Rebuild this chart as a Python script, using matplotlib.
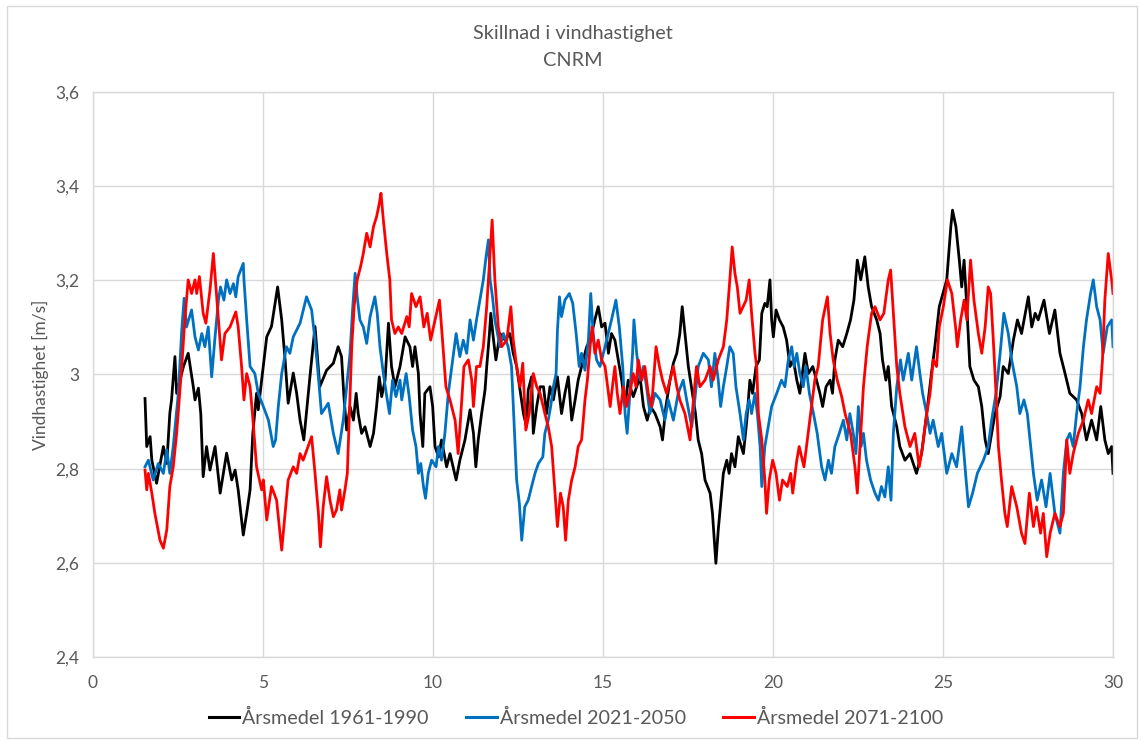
import matplotlib
matplotlib.use("Agg")
import matplotlib.pyplot as plt
from matplotlib.patches import Rectangle
from matplotlib.ticker import FuncFormatter

# ---- data ----
black_x = [1.53, 1.58, 1.68, 1.73, 1.87, 2.07, 2.17, 2.26, 2.31, 2.41, 2.46, 2.66, 2.80, 2.95, 3.00, 3.10, 3.17, 3.24, 3.34, 3.44,
           3.59, 3.74, 3.93, 4.08, 4.18, 4.27, 4.42, 4.52, 4.62, 4.70, 4.81, 4.86, 4.96, 5.11, 5.25, 5.43, 5.55, 5.65, 5.74, 5.89,
           5.99, 6.09, 6.20, 6.38, 6.53, 6.67, 6.87, 7.07, 7.21,
           7.31, 7.38, 7.46, 7.56, 7.66, 7.74, 7.80, 7.90, 8.00, 8.15, 8.25, 8.34, 8.42, 8.49, 8.59, 8.69, 8.78, 8.88, 9.03, 9.18,
           9.32, 9.40, 9.47, 9.57, 9.62, 9.70, 9.76, 9.91, 9.99, 10.06, 10.16, 10.25, 10.40, 10.50, 10.68, 10.79, 10.94, 11.09, 11.19, 11.26,
           11.33, 11.43, 11.53, 11.58, 11.66, 11.70, 11.77, 11.85, 11.97, 12.12, 12.26, 12.36, 12.46, 12.56, 12.66, 12.75, 12.80, 12.90, 12.95, 13.05,
           13.15, 13.25, 13.34, 13.44, 13.54, 13.66, 13.78, 13.88, 13.98, 14.08, 14.18, 14.27, 14.37, 14.52, 14.62, 14.76, 14.86, 14.96, 15.06, 15.16,
           15.25, 15.35, 15.45, 15.55, 15.65, 15.74, 15.89, 15.99, 16.09, 16.19, 16.30, 16.40, 16.53, 16.68, 16.75, 16.85, 16.97, 17.07, 17.17, 17.26,
           17.33, 17.41, 17.51, 17.63, 17.72, 17.80, 17.90, 18.00, 18.15, 18.22, 18.32, 18.39, 18.47, 18.54, 18.64, 18.71, 18.78, 18.88, 18.98,
           19.13, 19.23, 19.32, 19.40, 19.50, 19.60, 19.67, 19.76, 19.83, 19.91, 19.96, 20.01, 20.09, 20.19, 20.30, 20.40, 20.50, 20.60, 20.70, 20.79,
           20.94, 21.04, 21.17, 21.28, 21.38, 21.46, 21.56, 21.68, 21.75, 21.82, 21.92, 22.05, 22.17, 22.28, 22.38, 22.48, 22.58, 22.70, 22.80, 22.90,
           23.05, 23.15, 23.22, 23.32, 23.39, 23.49, 23.64, 23.73, 23.88, 24.03, 24.22, 24.37, 24.52, 24.66, 24.76, 24.89,
           25.11, 25.23, 25.28, 25.38, 25.48, 25.55, 25.62, 25.70, 25.79, 25.91, 26.04, 26.14, 26.24, 26.33, 26.43, 26.53, 26.68, 26.77, 26.92, 27.07,
           27.19, 27.31, 27.51, 27.61, 27.71, 27.80, 27.97, 28.13, 28.29, 28.44, 28.59, 28.73, 28.93, 29.08, 29.22, 29.37, 29.52, 29.64, 29.76, 29.86,
           29.96, 30.00]
black_y = [2.949, 2.847, 2.868, 2.818, 2.769, 2.847, 2.811, 2.918, 2.946, 3.038, 2.960, 3.017, 3.045, 2.974, 2.946, 2.971, 2.917, 2.783, 2.847, 2.797,
           2.847, 2.748, 2.833, 2.776, 2.797, 2.755, 2.659, 2.705, 2.755, 2.875, 2.960, 2.925, 2.988, 3.080, 3.102, 3.186, 3.116, 3.031, 2.939, 3.003,
           2.960, 2.903, 2.861, 2.995, 3.102, 2.974, 3.009, 3.024, 3.059,
           3.038, 2.953, 2.882, 2.932, 2.903, 2.960, 2.917, 2.875, 2.889, 2.847, 2.875, 2.932, 2.995, 2.953, 2.988, 3.109, 3.017, 2.974, 3.017, 3.080,
           3.059, 3.017, 3.059, 3.002, 2.917, 2.847, 2.960, 2.974, 2.932, 2.847, 2.825, 2.861, 2.804, 2.832, 2.776, 2.818, 2.861, 2.925, 2.875, 2.804,
           2.861, 2.917, 2.967, 3.017, 3.087, 3.130, 3.080, 3.031, 3.087, 3.073, 3.087, 3.045, 3.017, 2.967, 2.917, 2.889, 2.967, 2.995, 2.875, 2.932,
           2.974, 2.974, 2.917, 2.974, 2.946, 2.995, 2.917, 2.960, 2.995, 2.903, 2.946, 2.988, 3.017, 3.059, 3.073, 3.116, 3.144, 3.101, 3.109, 3.045,
           3.087, 3.073, 3.031, 2.988, 2.932, 2.988, 2.953, 2.974, 2.995, 2.932, 2.903, 2.932, 2.917, 2.889, 2.861, 2.932, 2.988, 3.024, 3.045, 3.087,
           3.144, 3.087, 3.017, 2.960, 2.917, 2.861, 2.832, 2.776, 2.748, 2.705, 2.599, 2.670, 2.733, 2.790, 2.818, 2.790, 2.832, 2.804, 2.868,
           2.832, 2.903, 2.988, 2.960, 3.017, 3.031, 3.130, 3.151, 3.144, 3.201, 3.116, 3.080, 3.137, 3.116, 3.101, 3.073, 3.017, 3.031, 2.988, 2.960,
           3.045, 3.002, 3.017, 2.988, 2.960, 2.932, 2.974, 2.988, 2.960, 3.031, 3.073, 3.059, 3.087, 3.116, 3.158, 3.243, 3.201, 3.250, 3.186, 3.144,
           3.116, 3.087, 3.031, 2.988, 3.017, 2.932, 2.889, 2.847, 2.818, 2.832, 2.790, 2.832, 2.917, 3.002, 3.059, 3.144,
           3.201, 3.314, 3.349, 3.314, 3.243, 3.186, 3.243, 3.144, 3.017, 2.988, 2.974, 2.932, 2.861, 2.832, 2.875, 2.917, 2.953, 3.017, 3.002, 3.073,
           3.116, 3.087, 3.165, 3.101, 3.130, 3.116, 3.158, 3.087, 3.137, 3.045, 3.002, 2.960, 2.946, 2.917, 2.861, 2.903, 2.861, 2.932, 2.861, 2.832,
           2.847, 2.790]

blue_x = [1.53, 1.63, 1.77, 1.92, 2.07, 2.17, 2.26, 2.36, 2.51, 2.61, 2.68, 2.75, 2.90, 3.00, 3.10, 3.20, 3.29, 3.39, 3.49, 3.59,
          3.69, 3.75, 3.85, 3.93, 4.03, 4.13, 4.20, 4.27, 4.42, 4.44, 4.52, 4.62, 4.76, 4.86, 5.01, 5.16, 5.30, 5.37, 5.45, 5.55,
          5.69, 5.79, 5.89, 6.09, 6.28, 6.43, 6.53, 6.63, 6.72, 6.92, 7.07, 7.21,
          7.36, 7.46, 7.56, 7.64, 7.71, 7.77, 7.85, 7.95, 8.05, 8.15, 8.29, 8.36, 8.44, 8.54, 8.64, 8.72, 8.81, 8.91, 9.03, 9.08,
          9.21, 9.30, 9.40, 9.50, 9.57, 9.64, 9.72, 9.78, 9.86, 9.96, 10.09, 10.16, 10.25, 10.35, 10.45, 10.58, 10.68, 10.79, 10.89, 10.99,
          11.09, 11.19, 11.28, 11.38, 11.48, 11.56, 11.63, 11.68, 11.75, 11.82, 11.97, 12.07, 12.21, 12.31, 12.38, 12.46, 12.54, 12.61, 12.70, 12.80,
          12.90, 13.00, 13.10,
          13.23, 13.29, 13.39, 13.46, 13.54, 13.62, 13.66, 13.72, 13.78, 13.88, 14.01, 14.11, 14.21, 14.30, 14.37, 14.47, 14.57, 14.64, 14.71, 14.81,
          14.91, 15.06, 15.25, 15.38, 15.48, 15.58, 15.65, 15.71, 15.79, 15.87, 15.91, 15.99, 16.09, 16.19, 16.28, 16.38, 16.53, 16.68, 16.82, 16.92,
          17.07, 17.21, 17.36, 17.46, 17.61, 17.70, 17.80, 17.95, 18.10, 18.19, 18.29, 18.39, 18.46, 18.54, 18.64, 18.73, 18.83, 18.91, 19.03,
          19.13, 19.21, 19.30, 19.37, 19.47, 19.54, 19.62, 19.67, 19.76, 19.86, 19.96, 20.11, 20.25, 20.35, 20.45, 20.55, 20.62, 20.70, 20.79, 20.89,
          20.97, 21.07, 21.19, 21.30, 21.43, 21.53, 21.63, 21.72, 21.82, 21.95, 22.07, 22.17, 22.26, 22.36, 22.44, 22.51, 22.59, 22.66, 22.75, 22.87,
          23.00, 23.10, 23.19, 23.29, 23.39, 23.47, 23.54, 23.64, 23.75, 23.83, 23.98, 24.08, 24.22, 24.32, 24.40, 24.52, 24.62, 24.71, 24.86,
          24.96, 25.11, 25.26, 25.40, 25.55, 25.68, 25.75, 25.87, 26.01, 26.19, 26.33, 26.43, 26.56, 26.68, 26.79, 26.92, 27.02, 27.17, 27.26, 27.38,
          27.48, 27.56, 27.66, 27.77, 27.90, 28.03, 28.15, 28.29, 28.44, 28.54, 28.64, 28.73, 28.83, 28.93, 29.03, 29.13, 29.22, 29.34, 29.42, 29.52,
          29.62, 29.71, 29.83, 29.96, 30.00]
blue_y = [2.804, 2.818, 2.776, 2.811, 2.790, 2.840, 2.790, 2.847, 2.960, 3.094, 3.162, 3.101, 3.137, 3.080, 3.052, 3.087, 3.059, 3.101, 2.995, 3.080,
          3.158, 3.186, 3.158, 3.201, 3.172, 3.193, 3.165, 3.208, 3.236, 3.201, 3.116, 3.017, 3.002, 2.960, 2.932, 2.903, 2.847, 2.861, 2.932, 3.002,
          3.059, 3.045, 3.080, 3.109, 3.165, 3.137, 3.073, 2.995, 2.917, 2.939, 2.875, 2.832,
          2.903, 2.974, 3.045, 3.144, 3.215, 3.165, 3.116, 3.101, 3.066, 3.123, 3.165, 3.130, 3.059, 3.002, 2.953, 2.917, 2.988, 2.953, 2.988, 2.946,
          3.002, 2.953, 2.882, 2.847, 2.790, 2.811, 2.762, 2.737, 2.790, 2.818, 2.804, 2.847, 2.818, 2.875, 2.960, 3.031, 3.087, 3.038, 3.073, 3.045,
          3.116, 3.073, 3.116, 3.158, 3.201, 3.250, 3.286, 3.201, 3.165, 3.116, 3.059, 3.087, 3.059, 3.017, 2.903, 2.776, 2.726, 2.648, 2.719, 2.733,
          2.762, 2.790, 2.811,
          2.825, 2.875, 2.903, 2.932, 2.974, 3.002, 3.094, 3.165, 3.123, 3.158, 3.172, 3.151, 3.087, 3.017, 3.045, 3.009, 3.073, 3.172, 3.087, 3.031,
          3.017, 3.059, 3.116, 3.158, 3.101, 3.017, 2.917, 2.875, 2.960, 3.045, 3.116, 3.045, 2.988, 3.017, 2.974, 2.917, 2.960, 2.946, 2.903, 2.946,
          2.903, 2.960, 2.988, 2.946, 2.889, 2.946, 3.017, 3.045, 3.031, 2.974, 3.045, 2.988, 2.932, 2.974, 3.017, 3.059, 3.045, 2.974, 2.917,
          2.861, 2.917, 2.946, 2.917, 2.960, 2.917, 2.847, 2.762, 2.847, 2.889, 2.932, 2.960, 2.988, 2.974, 3.031, 3.059, 3.017, 3.045, 3.002, 2.974,
          3.017, 2.960, 2.917, 2.875, 2.804, 2.776, 2.818, 2.790, 2.847, 2.875, 2.903, 2.861, 2.917, 2.875, 2.832, 2.932, 2.847, 2.875, 2.818, 2.776,
          2.748, 2.733, 2.762, 2.740, 2.804, 2.733, 2.875, 2.974, 3.031, 2.988, 3.045, 2.988, 3.059, 3.002, 2.960, 2.917, 2.875, 2.903, 2.847,
          2.875, 2.790, 2.832, 2.804, 2.889, 2.776, 2.719, 2.748, 2.790, 2.818, 2.847, 2.903, 2.960, 3.045, 3.130, 3.087, 3.031, 2.974, 2.917, 2.946,
          2.917, 2.861, 2.790, 2.733, 2.776, 2.719, 2.790, 2.705, 2.663, 2.790, 2.861, 2.875, 2.847, 2.917, 2.974, 3.059, 3.116, 3.172, 3.201, 3.144,
          3.116, 3.045, 3.101, 3.116, 3.059]

red_x = [1.53, 1.58, 1.63, 1.73, 1.82, 1.97, 2.07, 2.17, 2.26, 2.36, 2.46, 2.61, 2.70, 2.80, 2.90, 3.00, 3.05, 3.13, 3.24, 3.32,
         3.44, 3.54, 3.66, 3.78, 3.88, 4.03, 4.11, 4.20, 4.27, 4.37, 4.44, 4.52, 4.62, 4.69, 4.81, 4.96, 5.01, 5.11, 5.25, 5.40,
         5.55, 5.65, 5.74, 5.89, 5.99, 6.09, 6.18, 6.43, 6.53, 6.63, 6.69, 6.77, 6.87, 6.97, 7.07, 7.16, 7.26,
         7.31, 7.41, 7.48, 7.54, 7.61, 7.68, 7.77, 7.87, 7.95, 8.05, 8.15, 8.25, 8.34, 8.42, 8.47, 8.54, 8.64, 8.73, 8.78, 8.88,
         8.98, 9.08, 9.23, 9.30, 9.37, 9.50, 9.62, 9.73, 9.83, 9.93, 10.06, 10.19, 10.28, 10.38, 10.50, 10.65, 10.74, 10.82, 10.91, 11.04,
         11.14, 11.19, 11.28, 11.38, 11.48, 11.58, 11.68, 11.74, 11.82, 11.92, 12.02, 12.17, 12.29, 12.36, 12.46, 12.56, 12.64, 12.73, 12.83, 12.95,
         13.05, 13.15,
         13.29, 13.39, 13.49, 13.56, 13.66, 13.75, 13.83, 13.90, 13.98, 14.08, 14.18, 14.27, 14.37, 14.47, 14.54, 14.62, 14.68, 14.76, 14.86, 14.96,
         15.06, 15.16, 15.21, 15.30, 15.35, 15.42, 15.50, 15.60, 15.69, 15.79, 15.89, 15.97, 16.04, 16.14, 16.23, 16.33, 16.43, 16.56, 16.66, 16.75,
         16.87, 16.97, 17.07, 17.17, 17.26, 17.41, 17.56, 17.66, 17.75, 17.85, 18.00, 18.15, 18.24, 18.39, 18.54, 18.64, 18.73, 18.80, 18.88, 18.95,
         19.03,
         19.21, 19.30, 19.37, 19.47, 19.52, 19.57, 19.67, 19.76, 19.81, 19.89, 19.99, 20.09, 20.19, 20.28, 20.42, 20.52, 20.58, 20.70, 20.77, 20.91,
         21.01, 21.11, 21.23, 21.33, 21.46, 21.60, 21.68, 21.77, 21.89, 22.02, 22.12, 22.28, 22.41, 22.48, 22.58, 22.66, 22.77, 22.90, 23.00, 23.15,
         23.26, 23.39, 23.46, 23.54, 23.64, 23.73, 23.88, 24.03, 24.17, 24.30, 24.40, 24.52, 24.62, 24.71, 24.81,
         24.89, 25.01, 25.13, 25.26, 25.38, 25.42, 25.52, 25.62, 25.70, 25.81, 25.91, 26.04, 26.14, 26.24, 26.33, 26.40, 26.48, 26.56, 26.63, 26.72,
         26.82, 26.89, 27.02, 27.17, 27.31, 27.41, 27.54, 27.66, 27.75, 27.87, 27.95, 28.05, 28.15, 28.29, 28.44, 28.54, 28.64, 28.73, 28.83, 28.98,
         29.13, 29.27, 29.37, 29.52, 29.62, 29.69, 29.76, 29.86, 29.96, 30.00]
red_y = [2.797, 2.755, 2.790, 2.748, 2.705, 2.648, 2.631, 2.670, 2.762, 2.804, 2.875, 3.017, 3.116, 3.201, 3.172, 3.201, 3.172, 3.208, 3.130, 3.109,
         3.179, 3.257, 3.144, 3.031, 3.087, 3.101, 3.116, 3.133, 3.101, 3.017, 2.946, 3.002, 2.974, 2.917, 2.804, 2.755, 2.776, 2.691, 2.762, 2.733,
         2.627, 2.705, 2.776, 2.804, 2.790, 2.832, 2.818, 2.868, 2.790, 2.705, 2.634, 2.719, 2.783, 2.733, 2.698, 2.712, 2.755,
         2.712, 2.755, 2.790, 2.917, 3.059, 3.144, 3.201, 3.229, 3.257, 3.300, 3.271, 3.314, 3.335, 3.363, 3.385, 3.328, 3.257, 3.201, 3.116, 3.087,
         3.101, 3.087, 3.123, 3.101, 3.172, 3.144, 3.165, 3.101, 3.130, 3.073, 3.116, 3.158, 3.073, 2.974, 2.946, 2.903, 2.832, 2.917, 3.017, 3.031,
         2.988, 2.932, 3.017, 3.017, 3.059, 3.144, 3.257, 3.328, 3.201, 3.101, 3.059, 3.073, 3.144, 3.073, 3.017, 2.974, 3.024, 2.882, 2.917, 3.002,
         2.974, 2.960,
         2.917, 2.889, 2.847, 2.776, 2.677, 2.748, 2.719, 2.648, 2.733, 2.776, 2.804, 2.847, 2.861, 2.946, 2.988, 3.059, 3.101, 3.045, 3.073, 3.031,
         3.017, 2.960, 2.932, 2.988, 3.017, 2.960, 2.917, 2.974, 2.932, 2.960, 3.002, 2.974, 3.031, 2.988, 3.017, 2.960, 2.932, 3.059, 3.017, 2.988,
         2.960, 2.988, 3.017, 2.974, 2.946, 2.917, 2.861, 2.946, 3.017, 2.974, 2.988, 3.017, 2.988, 3.031, 3.059, 3.116, 3.201, 3.271, 3.215, 3.186,
         3.130,
         3.158, 3.201, 3.130, 3.045, 3.017, 2.917, 2.861, 2.776, 2.705, 2.776, 2.818, 2.790, 2.733, 2.776, 2.762, 2.790, 2.748, 2.818, 2.847, 2.804,
         2.861, 2.917, 2.988, 3.017, 3.116, 3.165, 3.087, 3.031, 2.988, 2.953, 2.917, 2.875, 2.804, 2.748, 2.875, 2.974, 3.059, 3.130, 3.144, 3.116,
         3.130, 3.201, 3.222, 3.130, 3.017, 2.960, 2.889, 2.847, 2.875, 2.804, 2.847, 2.917, 2.960, 3.031, 3.017,
         3.101, 3.144, 3.201, 3.172, 3.094, 3.059, 3.116, 3.158, 3.116, 3.243, 3.158, 3.087, 3.045, 3.101, 3.186, 3.172, 3.073, 2.960, 2.847, 2.776,
         2.705, 2.677, 2.762, 2.719, 2.663, 2.641, 2.748, 2.677, 2.719, 2.663, 2.705, 2.613, 2.663, 2.705, 2.677, 2.705, 2.861, 2.790, 2.832, 2.875,
         2.903, 2.946, 2.917, 2.974, 2.960, 3.031, 3.158, 3.257, 3.201, 3.172]

labels = ["Årsmedel 1961-1990", "Årsmedel 2021-2050", "Årsmedel 2071-2100"]
colors = ["#000000", "#0070C0", "#FF0000"]
title_lines = ["Skillnad i vindhastighet", "CNRM"]
y_label = "Vindhastighet [m/s]"
x_ticks = [0, 5, 10, 15, 20, 25, 30]
y_ticks = [2.4, 2.6, 2.8, 3.0, 3.2, 3.4, 3.6]

# ---- figure ----
W, H = 1141, 742
fig = plt.figure(figsize=(W / 100, H / 100), dpi=100)
plt.rcParams['font.family'] = ['Lato', 'DejaVu Sans']
txt_col = "#595959"
grid_col = "#d9d9d9"

ax = fig.add_axes([93 / W, 1 - 657 / H, (1113 - 93) / W, (657 - 92) / H])

series = [(black_x, black_y), (blue_x, blue_y), (red_x, red_y)]
for (xs, ys), lab, c in zip(series, labels, colors):
    ax.plot(xs, ys, color=c, lw=2.0, label=lab, solid_joinstyle='round')

ax.set_xlim(0, 30)
ax.set_ylim(2.4, 3.6)
ax.set_xticks(x_ticks)
ax.set_yticks(y_ticks)
ax.yaxis.set_major_formatter(FuncFormatter(lambda v, p: f"{v:g}".replace(".", ",")))
ax.grid(True, color=grid_col, lw=1)
ax.set_axisbelow(True)
for s in ax.spines.values():
    s.set_color(grid_col)
    s.set_linewidth(1)
ax.tick_params(length=0, labelsize=12.5, labelcolor=txt_col)
ax.tick_params(axis='x', pad=13)
ax.tick_params(axis='y', pad=10)

fig.text(573 / W, 1 - 33 / H, title_lines[0], ha='center', va='center', fontsize=14.3, color=txt_col)
fig.text(573 / W, 1 - 60 / H, title_lines[1], ha='center', va='center', fontsize=14.3, color=txt_col)
fig.text(40 / W, 1 - 375 / H, y_label, rotation=90, ha='center', va='center', fontsize=12.5, color=txt_col)

leg = fig.legend(loc='center', bbox_to_anchor=(576 / W, 1 - 718 / H), ncol=3, frameon=False,
                 fontsize=14.2, handlelength=1.55, handletextpad=0.15, columnspacing=1.9)
for t in leg.get_texts():
    t.set_color(txt_col)
for l in leg.get_lines():
    l.set_linewidth(2.2)

fig.patches.append(Rectangle((7 / W, 4 / H), (1137 - 7) / W, (736 - 4) / H, transform=fig.transFigure,
                             fill=False, edgecolor=grid_col, lw=1))

fig.savefig("out.png", dpi=100)
